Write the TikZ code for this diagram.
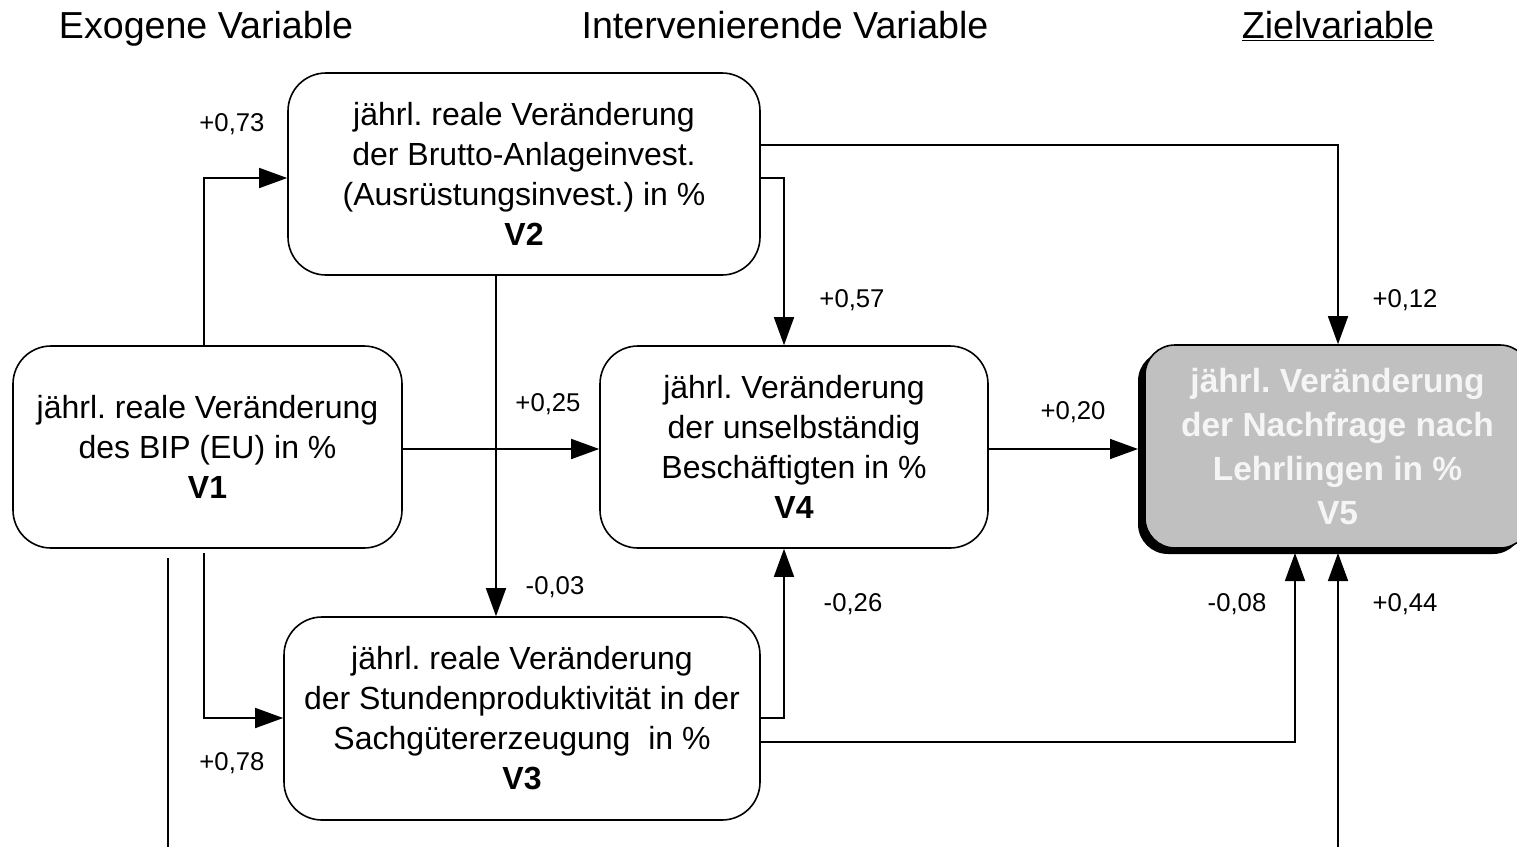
\documentclass[tikz,border=0pt]{standalone}
\usepackage{fontspec}
\setmainfont{Liberation Sans}
\frenchspacing
\usetikzlibrary{arrows.meta,shadows}
\definecolor{boxgray}{RGB}{192,192,192}
\definecolor{lighttext}{RGB}{245,245,245}
\begin{document}
\begin{tikzpicture}[x=1pt,y=-1pt,line width=1.6pt,
  >={Triangle[length=28pt,width=20pt]},
  varbox/.style={draw,rounded corners=38pt,line width=1.6pt,align=center,inner sep=0pt,
    font=\fontsize{32}{40}\selectfont},
  coef/.style={font=\fontsize{25.7}{30}\selectfont,inner sep=0pt},
  header/.style={font=\fontsize{37.6}{45}\selectfont,inner sep=0pt,anchor=base}]
\useasboundingbox (0,0) rectangle (1517,846);
\fill[white] (0,0) rectangle (1517,846);

% headers
\node[header] (h1) at (206,38) {Exogene Variable};
\node[header] (h2) at (785,38) {Intervenierende Variable};
\node[header] (h3) at (1338,38) {\underline{Zielvariable}};

% boxes
\node[varbox,minimum width=389pt,minimum height=202pt] (v1) at (207.5,447)
  {jährl. reale Veränderung\\des BIP (EU) in \%\\\textbf{V1}};
\node[varbox,minimum width=472pt,minimum height=202pt] (v2) at (524,174)
  {jährl. reale Veränderung\\der Brutto-Anlageinvest.\\(Ausrüstungsinvest.) in \%\\\textbf{V2}};
\node[varbox,minimum width=476pt,minimum height=203pt] (v3) at (522,718.5)
  {jährl. reale Veränderung\\der Stundenproduktivität in der\\Sachgütererzeugung \ in \%\\\textbf{V3}};
\node[varbox,minimum width=388pt,minimum height=202pt] (v4) at (794,447)
  {jährl. Veränderung\\der unselbständig\\Beschäftigten in \%\\\textbf{V4}};
\node[varbox,rounded corners=30pt,minimum width=385pt,minimum height=203pt,fill=boxgray,
  text=lighttext,font=\fontsize{33.5}{44}\selectfont\bfseries,
  drop shadow={shadow xshift=-7pt,shadow yshift=-6pt,fill=black,opacity=1}]
  (v5) at (1337.5,446.5)
  {jährl. Veränderung\\der Nachfrage nach\\Lehrlingen in \%\\V5};

% helper coordinates
\coordinate (c13) at (204,553);
\coordinate (c15) at (168,558);
\coordinate (b1) at (168,900);
\coordinate (b2) at (1338,900);
\coordinate (v5in) at (1138,449);
\coordinate (v5bot1) at (1295,553);
\coordinate (v5bot2) at (1338,553);

% connectors
\draw[->] (v1.north -| c13) |- (v2.west |- 0,178);
\draw[->] (c13) |- (v3.west |- 0,718);
\draw[->] (v1.east |- 0,449) -- (v4.west |- 0,449);
\draw[->] (c15) -- (b1) -- (b2) -- (v5bot2);
\draw[->] (v2.east |- 0,178) -| (v4.north -| 784,0);
\draw[->] (v2.east |- 0,145) -| (v5.north -| v5bot2);
\draw[->] (v2.south -| 496,0) -- (v3.north -| 496,0);
\draw[->] (v3.east |- 0,718) -| (v4.south -| 784,0);
\draw[->] (v3.east |- 0,742) -| (v5bot1);
\draw[->] (v4.east |- 0,449) -- (v5in);

% coefficients
\node[coef] (l12) at (232,124) {+0,73};
\node[coef] (l13) at (232,763) {+0,78};
\node[coef] (l14) at (548,404) {+0,25};
\node[coef] (l24) at (852,300) {+0,57};
\node[coef] (l25) at (1405,300) {+0,12};
\node[coef] (l23) at (555,587) {-0,03};
\node[coef] (l34) at (853,604) {-0,26};
\node[coef] (l35) at (1237,604) {-0,08};
\node[coef] (l15) at (1405,604) {+0,44};
\node[coef] (l45) at (1073,412) {+0,20};
\end{tikzpicture}
\end{document}
